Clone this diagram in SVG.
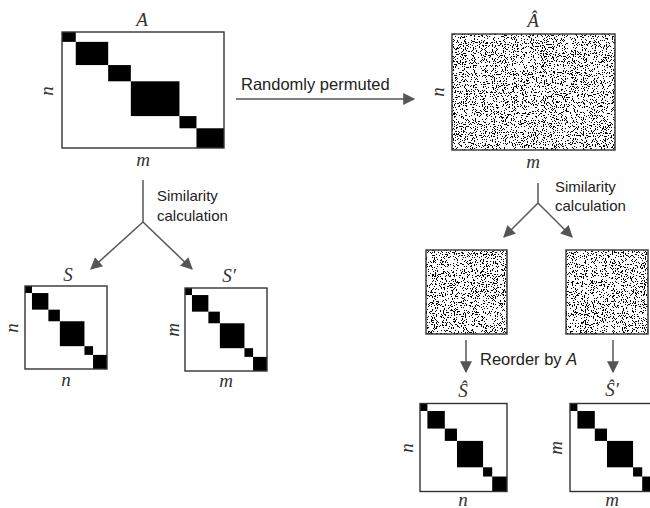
<svg xmlns="http://www.w3.org/2000/svg" xmlns:xlink="http://www.w3.org/1999/xlink" width="650" height="508" viewBox="0 0 650 508">
<style>
.frame{fill:none;stroke:#333;stroke-width:1.4}
.math{font-family:"Liberation Serif","DejaVu Serif",serif;font-style:italic;font-size:19px;fill:#333;text-anchor:middle}
.lbl{font-family:"Liberation Sans",Arial,sans-serif;font-size:15px;fill:#222}
.big{font-family:"Liberation Sans",Arial,sans-serif;font-size:16.5px;fill:#222}
.con{fill:none;stroke:#555;stroke-width:1.5}
.noise{fill:#fff;filter:url(#nz)}
</style>
<defs>
<symbol id="bd" viewBox="0 0 100 100" preserveAspectRatio="none">
<rect x="0" y="0" width="8.5" height="8.5"/>
<rect x="8.5" y="8.5" width="20" height="20"/>
<rect x="28.5" y="28.5" width="14" height="14"/>
<rect x="42.5" y="42.5" width="30" height="30"/>
<rect x="72.5" y="72.5" width="10.5" height="10.5"/>
<rect x="83" y="83" width="17" height="17"/>
</symbol>
<filter id="nz" x="0" y="0" width="1" height="1" color-interpolation-filters="sRGB">
<feTurbulence type="fractalNoise" baseFrequency="0.9" numOctaves="2" seed="4"/>
<feColorMatrix type="matrix" values="1 0 0 0 0 1 0 0 0 0 1 0 0 0 0 0 0 0 0 1"/>
<feComponentTransfer>
<feFuncR type="discrete" tableValues="1 1 1 1 1 1 1 1 1 1 1 1 0 0 0 0 0 0 0 0"/>
<feFuncG type="discrete" tableValues="1 1 1 1 1 1 1 1 1 1 1 1 0 0 0 0 0 0 0 0"/>
<feFuncB type="discrete" tableValues="1 1 1 1 1 1 1 1 1 1 1 1 0 0 0 0 0 0 0 0"/>
</feComponentTransfer>
</filter>
<marker id="ah" viewBox="0 0 10 10" refX="9" refY="5" markerWidth="15" markerHeight="12" markerUnits="userSpaceOnUse" orient="auto">
<path d="M0,0 L10,5 L0,10 z" fill="#555"/>
</marker>
</defs>

<g id="matrix-A">
<use xlink:href="#bd" href="#bd" x="62" y="32" width="162" height="116"/>
<rect class="frame" x="62" y="32" width="162" height="116"/>
<text class="math" x="142" y="26">A</text>
<text class="math" transform="translate(53,91) rotate(-90)">n</text>
<text class="math" x="143" y="166">m</text>
</g>

<g id="matrix-A-hat">
<rect class="noise" x="452" y="34" width="163" height="116"/>
<rect class="frame" x="452" y="34" width="163" height="116"/>
<text class="math" x="533" y="27">Â</text>
<text class="math" transform="translate(444,92) rotate(-90)">n</text>
<text class="math" x="533" y="168">m</text>
</g>

<g id="matrix-S">
<use xlink:href="#bd" href="#bd" x="25" y="286" width="82" height="83"/>
<rect class="frame" x="25" y="286" width="82" height="83"/>
<text class="math" x="68" y="281">S</text>
<text class="math" transform="translate(18,328) rotate(-90)">n</text>
<text class="math" x="66" y="386">n</text>
</g>

<g id="matrix-S-prime">
<use xlink:href="#bd" href="#bd" x="185" y="288" width="82" height="83"/>
<rect class="frame" x="185" y="288" width="82" height="83"/>
<text class="math" x="229" y="282">S′</text>
<text class="math" transform="translate(179,330) rotate(-90)">m</text>
<text class="math" x="226" y="387">m</text>
</g>

<g id="noise-S">
<rect class="noise" x="426" y="250" width="81" height="84"/>
<rect class="frame" x="426" y="250" width="81" height="84"/>
</g>

<g id="noise-S-prime">
<rect class="noise" x="566" y="250" width="82" height="84"/>
<rect class="frame" x="566" y="250" width="82" height="84"/>
</g>

<g id="matrix-S-hat">
<use xlink:href="#bd" href="#bd" x="420" y="403.5" width="87" height="88"/>
<rect class="frame" x="420" y="403.5" width="87" height="88"/>
<text class="math" x="463" y="397">Ŝ</text>
<text class="math" transform="translate(413,448) rotate(-90)">n</text>
<text class="math" x="463" y="506">n</text>
</g>

<g id="matrix-S-hat-prime">
<use xlink:href="#bd" href="#bd" x="570" y="403.5" width="87" height="88"/>
<rect class="frame" x="570" y="403.5" width="87" height="88"/>
<text class="math" x="612" y="396">Ŝ′</text>
<text class="math" transform="translate(562,448) rotate(-90)">m</text>
<text class="math" x="612" y="506">m</text>
</g>

<g id="connectors">
<line class="con" x1="236" y1="99" x2="414" y2="99" marker-end="url(#ah)"/>
<text class="big" x="241" y="90">Randomly permuted</text>
<polyline class="con" points="143,180 143,222"/>
<line class="con" x1="143" y1="222" x2="91" y2="269" marker-end="url(#ah)"/>
<line class="con" x1="143" y1="222" x2="192" y2="269" marker-end="url(#ah)"/>
<text class="lbl" x="157" y="201">Similarity</text>
<text class="lbl" x="157" y="221">calculation</text>
<polyline class="con" points="538,183 538,203"/>
<line class="con" x1="538" y1="203" x2="504" y2="237" marker-end="url(#ah)"/>
<line class="con" x1="538" y1="203" x2="572" y2="237" marker-end="url(#ah)"/>
<text class="lbl" x="555" y="192">Similarity</text>
<text class="lbl" x="555" y="211">calculation</text>
<line class="con" x1="466" y1="340" x2="466" y2="372" marker-end="url(#ah)"/>
<line class="con" x1="613" y1="340" x2="613" y2="372" marker-end="url(#ah)"/>
<text class="big" x="480" y="365">Reorder by <tspan font-style="italic">A</tspan></text>
</g>
</svg>
